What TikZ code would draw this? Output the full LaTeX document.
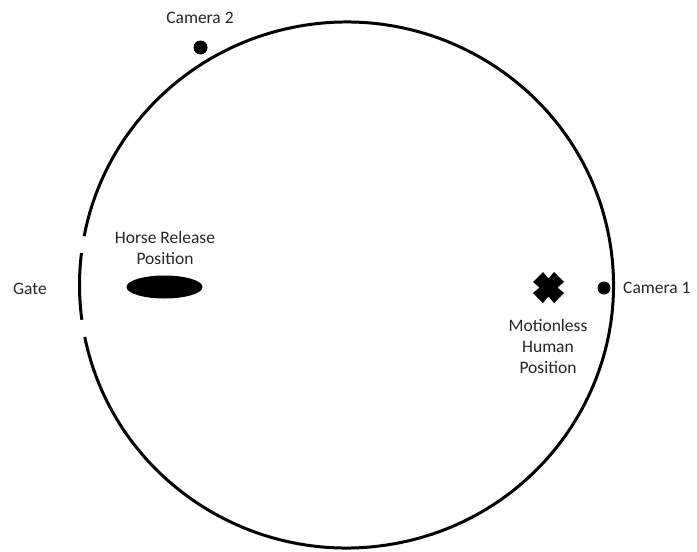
\documentclass[tikz,border=0pt]{standalone}
\usepackage{fontspec}
\setmainfont{Carlito}
\usetikzlibrary{shapes.geometric}
\begin{document}
\begin{tikzpicture}[x=1pt,y=-1pt,
  lbl/.style={text=black!85,font=\fontsize{17.5}{21}\selectfont,align=center,inner sep=0pt},
  rim/.style={line width=3pt,draw=black},
  dot/.style={circle,fill=black,minimum size=14pt,inner sep=0pt}]
\useasboundingbox (0,0) rectangle (697,552);
\coordinate (c) at (346.5,285);
% main circle with gate gaps
\draw[rim] ([shift={(191.4:267pt and 263pt)}]c) arc[start angle=191.4,end angle=529.3,x radius=267pt,y radius=263pt];
% gate
\draw[rim] ([shift={(173:267pt and 263pt)}]c) arc[start angle=173,end angle=187.6,x radius=267pt,y radius=263pt];
% horse release
\node[ellipse,fill=black,minimum width=76pt,minimum height=23pt,inner sep=0pt] (horse) at (164.5,287) {};
\node[lbl] (horselbl) at (165,247.5) {Horse Release\\Position};
% cameras
\node[dot] (cam2) at (200.5,47.5) {};
\node[lbl] (cam2lbl) at (200,18) {Camera 2};
\node[dot,minimum size=13pt] (cam1) at (604,288) {};
\node[lbl,anchor=west] (cam1lbl) at (623,288) {Camera 1};
\node[lbl] (gate) at (30,289) {Gate};
% human cross
\coordinate (hum) at (548.5,287.5);
\fill[shift={(hum)}] (-15.5,-5.5) -- (-5.5,-15.5) -- (0,-9) -- (5.5,-15.5) -- (15.5,-5.5) -- (9,0) -- (15.5,5.5) -- (5.5,15.5) -- (0,9) -- (-5.5,15.5) -- (-15.5,5.5) -- (-9,0) -- cycle;
\node[lbl] (humlbl) at (548,346) {Motionless\\Human\\Position};
\end{tikzpicture}
\end{document}
